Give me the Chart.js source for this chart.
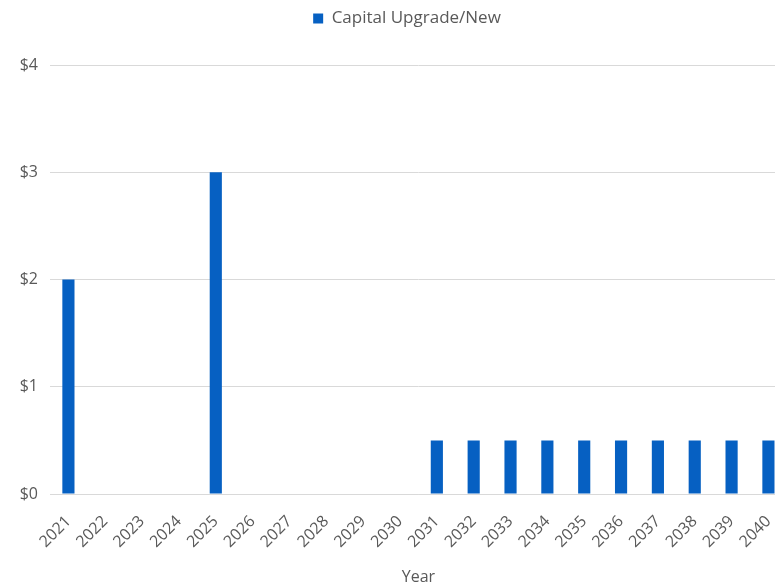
<!DOCTYPE html>
<html>
<head>
<meta charset="utf-8">
<script src="https://cdn.jsdelivr.net/npm/chart.js@4/dist/chart.umd.min.js"></script>
<style>
  html, body { margin: 0; padding: 0; background: #fff; overflow: hidden; }
  #wrap { width: 775px; height: 584px; overflow: hidden; }
  #box { width: 792px; height: 584px; }
</style>
</head>
<body>
<div id="wrap"><div id="box"><canvas id="chart"></canvas></div></div>
<script>
const years = ['2021','2022','2023','2024','2025','2026','2027','2028','2029','2030',
               '2031','2032','2033','2034','2035','2036','2037','2038','2039','2040'];
const capitalUpgradeNew = [2, 0, 0, 0, 3, 0, 0, 0, 0, 0,
                           0.5, 0.5, 0.5, 0.5, 0.5, 0.5, 0.5, 0.5, 0.5, 0.5];
const yTicks = [0, 1, 2, 3, 4];

const font = "'Open Sans', 'Noto Sans', sans-serif";
const grey = '#595959';

// push the plot down below the legend, nudge legend a bit right
const legendGap = {
  id: 'legendGap',
  beforeInit(chart) {
    const lg = chart.legend;
    const fit = lg.fit;
    const draw = lg.draw;
    lg.fit = function () {
      fit.call(this);
      this.height += 28;
    };
    lg.draw = function () {
      this.ctx.save();
      this.ctx.translate(11, 0);
      draw.call(this);
      this.ctx.restore();
    };
  },
};

new Chart(document.getElementById('chart'), {
  type: 'bar',
  data: {
    labels: years,
    datasets: [{
      label: 'Capital Upgrade/New',
      data: capitalUpgradeNew,
      backgroundColor: '#0660C2',
      barPercentage: 0.66,
      categoryPercentage: 0.5,
    }],
  },
  plugins: [legendGap],
  options: {
    responsive: true,
    maintainAspectRatio: false,
    animation: false,
    layout: { padding: 0 },
    plugins: {
      legend: {
        position: 'top',
        labels: { boxWidth: 10, boxHeight: 10, color: grey, font: { family: font, size: 17 }, padding: 10 },
      },
      tooltip: { enabled: false },
    },
    scales: {
      y: {
        min: 0, max: 4,
        afterBuildTicks: s => { s.ticks = yTicks.map(v => ({ value: v })); },
        afterFit: s => { s.width = 50; },
        border: { display: false },
        grid: { color: '#d9d9d9', drawTicks: false },
        ticks: { color: grey, padding: 12, font: { family: font, size: 16 }, callback: v => '$' + v },
      },
      x: {
        afterFit: s => { s.height = 90; },
        border: { color: '#d9d9d9' },
        grid: { display: false },
        ticks: { color: grey, minRotation: 45, maxRotation: 45, padding: 10, font: { family: font, size: 16 } },
        title: { display: true, text: 'Year', color: grey, padding: { top: 0, bottom: -3 }, font: { family: font, size: 16 } },
      },
    },
  },
});
</script>
</body>
</html>
